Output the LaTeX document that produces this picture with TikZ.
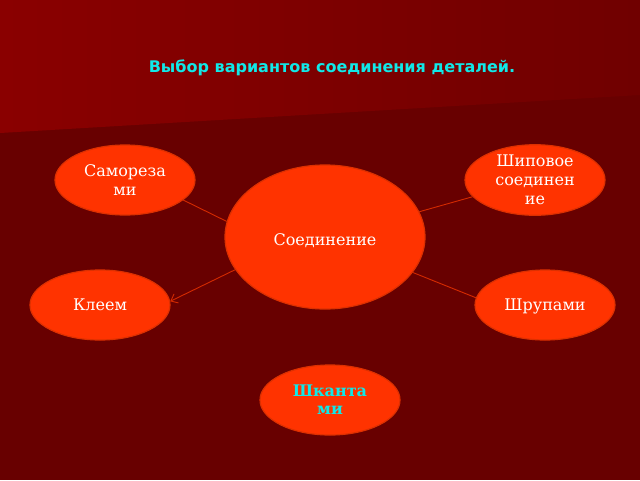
\documentclass[tikz,border=0pt]{standalone}
\usepackage{fontspec}
\setmainfont{DejaVu Serif}
\newfontfamily\titlefont{DejaVu Sans}
\usetikzlibrary{shapes.geometric,arrows.meta}
\definecolor{bgdark}{HTML}{680000}
\definecolor{bgtopl}{HTML}{8A0000}
\definecolor{bgtopr}{HTML}{700000}
\definecolor{ellfill}{HTML}{FF3300}
\definecolor{elldraw}{HTML}{DD3000}
\definecolor{linecol}{HTML}{D42A00}
\definecolor{titlecyan}{HTML}{10E8E8}
\tikzset{
  bubble/.style={ellipse, fill=ellfill, draw=elldraw, line width=1.2pt, minimum width=140pt, minimum height=70pt, inner sep=0pt, text=white, align=center, font=\fontsize{16}{19}\selectfont},
  conn/.style={draw=linecol, line width=0.9pt},
}
\begin{document}
\begin{tikzpicture}[x=1pt,y=-1pt]
\useasboundingbox (0,0) rectangle (640,480);
\fill[bgdark] (0,0) rectangle (640,480);
\shade[left color=bgtopl, right color=bgtopr] (0,0) -- (640,0) -- (640,95) -- (0,133) -- cycle;
\node[text=titlecyan, font=\titlefont\bfseries\fontsize{16}{19}\selectfont] (title) at (332,68) {Выбор вариантов соединения деталей.};
\node[bubble, minimum width=200pt, minimum height=144pt] (c) at (325,237) {\raisebox{-8pt}[0pt][0pt]{Соединение}};
\node[bubble] (s) at (125,180) {Самореза\\ми};
\node[bubble] (sh) at (535,180) {Шиповое\\соединен\\ие};
\node[bubble] (k) at (100,305) {Клеем};
\node[bubble] (shr) at (545,305) {\raisebox{-5.5pt}[0pt][0pt]{Шрупами}};
\node[bubble, text=titlecyan, font=\bfseries\fontsize{16}{18}\selectfont] (shk) at (330,400) {Шканта\\ми};
\draw[conn] (s.-19) -- (c.171);
\draw[conn] (sh.195) -- (c.15);
\draw[conn] (shr.174) -- (c.-22);
\draw[conn, -{Straight Barb[length=6pt,width=10pt]}] (c.200) -- (k.3);
\end{tikzpicture}
\end{document}
